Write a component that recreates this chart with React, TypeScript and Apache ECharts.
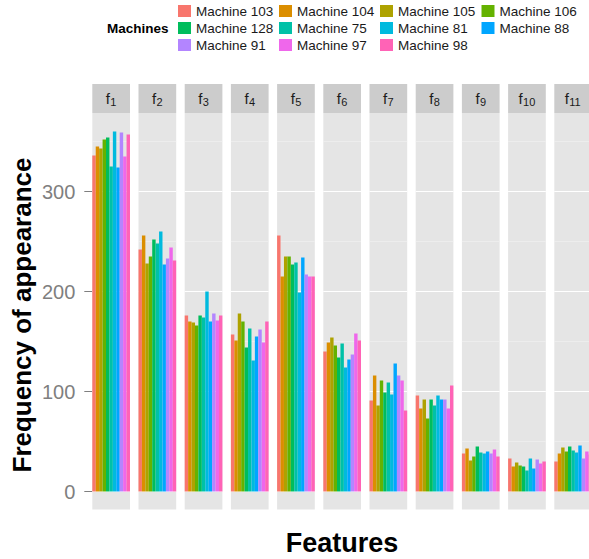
import React, { useEffect, useRef } from "react";
import * as echarts from "echarts";

const features = ["f1", "f2", "f3", "f4", "f5", "f6", "f7", "f8", "f9", "f10", "f11"];
const featureSubs = ["1", "2", "3", "4", "5", "6", "7", "8", "9", "10", "11"];
const machines = [
  "Machine 103", "Machine 104", "Machine 105", "Machine 106", "Machine 128", "Machine 75",
  "Machine 81", "Machine 88", "Machine 91", "Machine 97", "Machine 98",
];
const machineColors = [
  "#F8766D", "#DB8E00", "#AEA200", "#64B200", "#00BD5C", "#00C1A7",
  "#00BADE", "#00A6FF", "#B385FF", "#EF67EB", "#FF63B6",
];

// frequency of appearance per feature (f1..f11), one array per machine
const m103 = [336, 242, 176, 157, 256, 140, 91, 96, 38, 33, 30];
const m104 = [345, 256, 170, 151, 215, 149, 116, 83, 43, 25, 38];
const m105 = [343, 228, 169, 178, 235, 154, 86, 92, 31, 29, 44];
const m106 = [352, 235, 166, 170, 235, 146, 111, 73, 35, 26, 40];
const m128 = [354, 252, 176, 144, 227, 134, 99, 92, 45, 25, 45];
const m75 = [325, 248, 174, 163, 229, 148, 109, 86, 39, 21, 41];
const m81 = [360, 260, 200, 131, 199, 124, 97, 96, 38, 33, 39];
const m88 = [324, 227, 170, 155, 234, 132, 128, 92, 40, 23, 46];
const m91 = [359, 233, 178, 162, 217, 137, 116, 92, 38, 32, 33];
const m97 = [335, 244, 171, 149, 215, 158, 111, 83, 42, 28, 40];
const m98 = [357, 231, 176, 170, 215, 151, 81, 106, 35, 30, 37];
const machineValues = [m103, m104, m105, m106, m128, m75, m81, m88, m91, m97, m98];

const majorTicks = [0, 100, 200, 300];
const minorTicks = [50, 150, 250, 350];

const FONT = "'Liberation Sans', Arial, Helvetica, sans-serif";
const PANEL_LEFT0 = 92.3;
const PANEL_PITCH = 46.2;
const PANEL_W = 37.7;
const PANEL_TOP = 113;
const PANEL_H = 396.5;
const STRIP_TOP = 84;
const Y_MIN = -18;
const Y_MAX = 378.5;

export default function App() {
  const ref = useRef<HTMLDivElement>(null);

  useEffect(() => {
    if (!ref.current) return;
    const chart = echarts.init(ref.current, undefined, { renderer: "svg" });

    const grids = features.map((_, i) => ({
      left: PANEL_LEFT0 + i * PANEL_PITCH,
      top: PANEL_TOP,
      width: PANEL_W,
      height: PANEL_H,
      show: true,
      backgroundColor: "#E5E5E5",
      borderWidth: 0,
    }));

    const xAxes = features.map((f, i) => ({
      type: "category",
      gridIndex: i,
      data: [f],
      show: false,
    }));

    const yAxes = features.map((_, i) => ({
      type: "value",
      gridIndex: i,
      min: Y_MIN,
      max: Y_MAX,
      show: i === 0,
      splitLine: { show: false },
      axisLine: { show: false },
      axisTick: {
        show: true,
        length: 8,
        customValues: majorTicks,
        lineStyle: { color: "#7F7F7F", width: 1 },
      },
      axisLabel: {
        show: true,
        customValues: majorTicks,
        color: "#7F7F7F",
        fontSize: 20,
        margin: 17,
        fontFamily: FONT,
      },
    }));

    const series: any[] = [];
    features.forEach((_, i) => {
      series.push({
        type: "line",
        name: "grid" + i,
        xAxisIndex: i,
        yAxisIndex: i,
        data: [],
        silent: true,
        z: 1,
        markLine: {
          silent: true,
          z: 1,
          symbol: ["none", "none"],
          label: { show: false },
          emphasis: { disabled: true },
          animation: false,
          data: [
            ...minorTicks.map((v) => ({ yAxis: v, lineStyle: { color: "#F2F2F2", width: 0.6, type: "solid" } })),
            ...majorTicks.map((v) => ({ yAxis: v, lineStyle: { color: "#FFFFFF", width: 1.1, type: "solid" } })),
          ],
        },
      });
      machines.forEach((m, k) => {
        series.push({
          type: "bar",
          name: m,
          xAxisIndex: i,
          yAxisIndex: i,
          data: [machineValues[k][i]],
          barGap: "0%",
          barCategoryGap: "0%",
          itemStyle: { color: machineColors[k] },
          z: 3,
        });
      });
    });

    const legendCols = [[0, 4, 8], [1, 5, 9], [2, 6, 10], [3, 7]];
    const legendLefts = [178, 279, 380, 481.5];
    const legends = legendCols.map((col, k) => ({
      orient: "vertical",
      left: legendLefts[k],
      top: 4,
      padding: 0,
      itemGap: 3,
      itemWidth: 13,
      itemHeight: 12,
      icon: "rect",
      selectedMode: false,
      data: col.map((idx) => machines[idx]),
      textStyle: { fontSize: 13.5, color: "#1A1A1A", fontFamily: FONT, lineHeight: 12 },
    }));

    const graphics: any[] = [];
    features.forEach((_, i) => {
      const left = PANEL_LEFT0 + i * PANEL_PITCH;
      const cx = left + PANEL_W / 2;
      graphics.push({
        type: "rect",
        shape: { x: left, y: STRIP_TOP, width: PANEL_W, height: PANEL_TOP - STRIP_TOP },
        style: { fill: "#CCCCCC" },
        silent: true,
      });
      const sub = featureSubs[i];
      const subW = 6.1 * sub.length;
      const start = cx - (4.5 + subW) / 2;
      graphics.push({
        type: "text",
        x: start,
        y: 98,
        style: { text: "f", fontSize: 15, fill: "#1A1A1A", fontFamily: FONT, textAlign: "left", textVerticalAlign: "middle" },
        silent: true,
      });
      graphics.push({
        type: "text",
        x: start + 4.5,
        y: 101.5,
        style: { text: sub, fontSize: 11, fill: "#1A1A1A", fontFamily: FONT, textAlign: "left", textVerticalAlign: "middle" },
        silent: true,
      });
    });
    graphics.push({
      type: "text",
      x: 107,
      y: 28.5,
      style: { text: "Machines", fontSize: 13.5, fontWeight: "bold", fill: "#000", fontFamily: FONT, textAlign: "left", textVerticalAlign: "middle" },
      silent: true,
    });
    graphics.push({
      type: "text",
      x: 342,
      y: 543,
      style: { text: "Features", fontSize: 27, fontWeight: "bold", fill: "#000", fontFamily: FONT, textAlign: "center", textVerticalAlign: "middle" },
      silent: true,
    });
    graphics.push({
      type: "text",
      x: 22,
      y: 315,
      rotation: Math.PI / 2,
      style: { text: "Frequency of appearance", fontSize: 26, fontWeight: "bold", fill: "#000", fontFamily: FONT, textAlign: "center", textVerticalAlign: "middle" },
      silent: true,
    });

    chart.setOption({
      animation: false,
      backgroundColor: "#FFFFFF",
      textStyle: { fontFamily: FONT },
      grid: grids,
      xAxis: xAxes,
      yAxis: yAxes,
      legend: legends,
      series,
      graphic: graphics,
    });

    return () => chart.dispose();
  }, []);

  return (
    <div style={{ position: "absolute", left: 0, top: 0, width: 589, height: 559, overflow: "hidden", background: "#fff" }}>
      <div ref={ref} style={{ width: 600, height: 559 }} />
    </div>
  );
}
